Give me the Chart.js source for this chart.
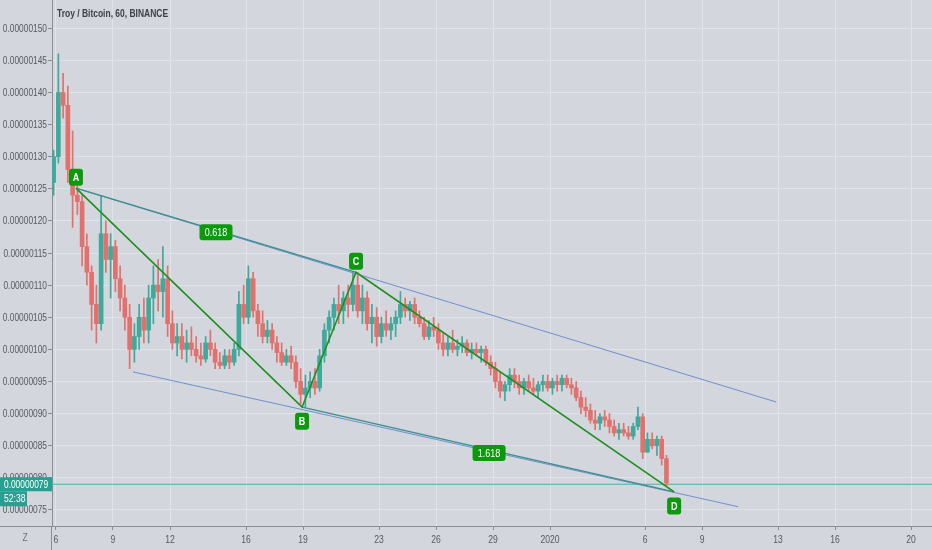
<!DOCTYPE html>
<html>
<head>
<meta charset="utf-8">
<script src="https://cdn.jsdelivr.net/npm/chart.js@4.4.1/dist/chart.umd.min.js"></script>
<style>
  html, body { margin: 0; padding: 0; background: #d3d6dc; }
  canvas { display: block; }
</style>
</head>
<body>
<canvas id="chart" width="932" height="550" style="width:932px;height:550px"></canvas>
<script>
// prices in satoshi (1e-8 BTC), time in days counted from Nov 30 (so Dec 6 = 6, Jan 1 = 32)
const chartTitle = 'Troy / Bitcoin, 60, BINANCE';
const candleStart = 5.875;
const candleStep = 0.25; // one candle per 6 hours

const opens = [
  126,
  130, 140, 138, 128, 124, 123, 116, 112,
  107, 104, 118, 114, 116, 111, 108, 105,
  100, 102, 105, 103, 108, 110, 109, 111,
  104, 101, 102, 100, 101, 100, 99, 98.5,
  101, 100, 98, 97.5, 99, 98, 100, 107,
  105, 111, 106, 104, 102, 103, 101, 99.5,
  98, 99, 98, 95, 93, 94, 95, 94,
  99, 103, 105, 107, 106, 108, 107, 110,
  106, 108, 104, 105, 102, 104, 103, 104,
  105, 107, 106, 107, 105, 104, 102, 103.5,
  103, 101, 100, 101, 100, 100.5, 101, 99.5,
  100, 99.5, 100, 98, 97, 95, 93.5, 94.5,
  96, 95, 94, 95, 94, 93.5, 94.5, 95,
  94, 95, 94.5, 95.5, 94.5, 94, 92.5, 91,
  90.5, 89, 88.5, 89.5, 89, 88, 87, 87.5,
  87, 86.5, 88, 89.5, 84, 86, 85, 86,
  83
];
const highs = [
  131,
  146, 143, 141, 134, 125.5, 124, 118, 113,
  110, 124, 120, 118, 117, 113, 110, 107,
  104, 107, 108, 110, 113, 114, 116, 113,
  106, 104, 104, 103, 103.5, 102, 101, 102,
  103, 101, 99.5, 100, 100, 101, 109, 110,
  113, 112, 107, 106, 104.5, 104, 102, 101,
  100, 100.5, 99, 97, 96, 96.5, 97, 100,
  104, 106, 108, 110, 109, 110, 112, 112,
  110, 109, 107, 106.5, 105, 106, 105, 106,
  109, 108, 107.5, 108, 106, 105, 104.5, 105,
  104, 102.5, 102, 103, 101.5, 102, 101.5, 101,
  101, 100.5, 100.5, 99, 98, 96.5, 95, 97,
  97, 96, 95.5, 96, 95.5, 95, 96, 96,
  95.5, 96, 96, 96, 95.5, 95, 93.5, 92.5,
  91.5, 90.5, 90, 90.5, 90, 89, 88.5, 88.5,
  88, 88.5, 91, 90, 87, 87, 86.5, 86.5,
  83.5
];
const lows = [
  124,
  129, 136, 126, 119, 121, 113, 110, 103,
  101, 103, 112, 108, 109, 106, 103, 97,
  98, 100, 101, 101, 104, 106, 105, 102,
  100, 99, 98.5, 98, 99, 98, 97.5, 98,
  99, 97, 97, 97, 97, 97.5, 99, 104,
  104, 105, 102, 101, 101, 100, 98, 97.5,
  97.5, 97, 94, 91.5, 91, 92.5, 93, 93.5,
  98, 101, 103, 104, 104, 105, 106, 105,
  104, 103, 101, 100.5, 101, 102, 101.5, 102,
  104, 105, 104.5, 104, 103.5, 101.5, 101.5, 102,
  100, 99, 99, 99.5, 99, 99.5, 99, 98.5,
  99, 98, 97.5, 96, 94, 92.5, 92, 93.5,
  94, 93, 93, 93.5, 93, 92.5, 93.5, 93.5,
  93, 93.5, 93.5, 94, 93, 92, 90, 89.5,
  88.5, 87.5, 87.5, 88, 87, 86.5, 86, 86.5,
  86, 86, 87.5, 83, 84, 84.5, 83.5, 82,
  78.8
];
const closes = [
  130,
  140, 138, 128, 124, 123, 116, 112, 107,
  104, 118, 114, 116, 111, 108, 105, 100,
  102, 105, 103, 108, 110, 109, 111, 104,
  101, 102, 100, 101, 100, 99, 98.5, 101,
  100, 98, 97.5, 99, 98, 100, 107, 105,
  111, 106, 104, 102, 103, 101, 99.5, 98,
  99, 98, 95, 93, 94, 95, 94, 99,
  103, 105, 107, 106, 108, 107, 110, 106,
  108, 104, 105, 102, 104, 103, 104, 105,
  107, 106, 107, 105, 104, 102, 103.5, 103,
  101, 100, 101, 100, 100.5, 101, 99.5, 100,
  99.5, 100, 98, 97, 95, 93.5, 94.5, 96,
  95, 94, 95, 94, 93.5, 94.5, 95, 94,
  95, 94.5, 95.5, 94.5, 94, 92.5, 91, 90.5,
  89, 88.5, 89.5, 89, 88, 87, 87.5, 87,
  86.5, 88, 89.5, 84, 86, 85, 86, 83,
  79.2
];

// harmonic pattern points A B C D
const patternNames = ['A', 'B', 'C', 'D'];
const patternDays = [7.05, 18.95, 21.79, 38.53];
const patternPrices = [125.1, 91.0, 112.0, 77.8];
const ratioLabels = ['0.618', '1.618'];
const ratioDays = [14.42, 28.79];
const ratioPrices = [118.25, 83.86];

// trend lines
const upperTrendDays = [7.05, 43.9];
const upperTrendPrices = [125.1, 91.8];
const lowerTrendDays = [10.05, 41.9];
const lowerTrendPrices = [96.5, 75.5];

const lastPrice = 79.0;
const countdown = '52:38';

const xTickDays = [6, 9, 12, 16, 19, 23, 26, 29, 32, 37, 40, 44, 47, 51];
const xTickLabels = ['6', '9', '12', '16', '19', '23', '26', '29', '2020', '6', '9', '13', '16', '20'];
const yTickValues = [75, 80, 85, 90, 95, 100, 105, 110, 115, 120, 125, 130, 135, 140, 145, 150];

const xMin = 5.79, xMax = 52.1;
const yMin = 72.5, yMax = 154.4;

const UP = '#3fa99b';
const DOWN = '#e2706c';
const GREEN = '#1d8f1d';
const LABEL_GREEN = '#0c9a0c';
const TEAL = '#3a8f8c';
const BLUE = '#6c8fd2';
const AXIS = '#8a8d92';
const GRID = '#e0e3e8';
const TEXT = '#555a61';
const FONT = "'Liberation Sans', Arial, sans-serif";

const candleDays = opens.map((_, i) => candleStart + i * candleStep);
const candleColors = opens.map((o, i) => (closes[i] >= o ? UP : DOWN));

function points(days, prices) {
  return days.map((d, i) => ({ x: d, y: prices[i] }));
}

function formatPrice(v) {
  return (v / 1e8).toFixed(8);
}

// the UI font is condensed, so squeeze Liberation Sans horizontally
function narrowText(ctx, text, x, y, align, squeeze = 0.82) {
  ctx.save();
  ctx.translate(x, y);
  ctx.scale(squeeze, 1);
  ctx.textAlign = align;
  ctx.fillText(text, 0, 0);
  ctx.restore();
}

function box(ctx, cx, cy, w, h, r, fill) {
  ctx.fillStyle = fill;
  ctx.beginPath();
  ctx.roundRect(cx - w / 2, cy - h / 2, w, h, r);
  ctx.fill();
}

const overlay = {
  id: 'overlay',
  afterDraw(chart) {
    const { ctx, scales: { x, y }, chartArea } = chart;
    ctx.save();
    ctx.textBaseline = 'middle';

    // axis lines continuing into the corner
    ctx.strokeStyle = AXIS;
    ctx.lineWidth = 1;
    ctx.beginPath();
    ctx.moveTo(chartArea.left - 0.5, chartArea.bottom);
    ctx.lineTo(chartArea.left - 0.5, chart.height);
    ctx.moveTo(0, chartArea.bottom + 0.5);
    ctx.lineTo(chartArea.left, chartArea.bottom + 0.5);
    ctx.stroke();

    // axis labels
    ctx.fillStyle = TEXT;
    ctx.font = `11px ${FONT}`;
    yTickValues.forEach((v) => {
      narrowText(ctx, formatPrice(v), chartArea.left - 5, y.getPixelForValue(v) + 0.5, 'right', 0.76);
    });
    xTickDays.forEach((d, i) => {
      narrowText(ctx, xTickLabels[i], x.getPixelForValue(d), chartArea.bottom + 14, 'center', 0.78);
    });

    // title
    ctx.fillStyle = '#3d4046';
    ctx.font = `bold 11px ${FONT}`;
    narrowText(ctx, chartTitle, chartArea.left + 5, 14, 'left', 0.77);

    // point labels
    ctx.font = `bold 11px ${FONT}`;
    patternNames.forEach((name, i) => {
      const px = x.getPixelForValue(patternDays[i]);
      const py = y.getPixelForValue(patternPrices[i]);
      const below = i % 2 === 1;
      const cy = below ? py + 14 : py - 11;
      box(ctx, px, cy, 14, 17, 3, LABEL_GREEN);
      ctx.fillStyle = '#ffffff';
      narrowText(ctx, name, px, cy + 1, 'center');
    });

    ctx.font = `11px ${FONT}`;
    ratioLabels.forEach((txt, i) => {
      const px = x.getPixelForValue(ratioDays[i]);
      const py = y.getPixelForValue(ratioPrices[i]);
      box(ctx, px, py, 33, 16, 3, LABEL_GREEN);
      ctx.fillStyle = '#ffffff';
      narrowText(ctx, txt, px, py + 1, 'center');
    });

    // last price tag on the axis
    const ly = y.getPixelForValue(lastPrice);
    ctx.fillStyle = '#28a091';
    ctx.fillRect(0, ly - 7, chartArea.left, 14);
    ctx.fillRect(0, ly + 7, 27, 15);
    ctx.fillStyle = '#ffffff';
    ctx.font = `11px ${FONT}`;
    narrowText(ctx, formatPrice(lastPrice), 4, ly + 0.5, 'left', 0.76);
    narrowText(ctx, countdown, 4, ly + 14.5, 'left', 0.78);

    // corner button
    ctx.fillStyle = '#6a6e75';
    ctx.font = `11px ${FONT}`;
    narrowText(ctx, 'Z', 25, 538, 'center', 0.78);

    ctx.restore();
  }
};

new Chart(document.getElementById('chart'), {
  type: 'bar',
  data: {
    datasets: [
      {
        type: 'line',
        data: points(patternDays, patternPrices),
        borderColor: GREEN,
        borderWidth: 1.6,
        pointRadius: 0,
        order: 0
      },
      {
        type: 'line',
        data: points([patternDays[0], patternDays[2]], [patternPrices[0], patternPrices[2]]),
        borderColor: TEAL,
        borderWidth: 1.3,
        pointRadius: 0,
        order: 1
      },
      {
        type: 'line',
        data: points([patternDays[1], patternDays[3]], [patternPrices[1], patternPrices[3]]),
        borderColor: TEAL,
        borderWidth: 1.3,
        pointRadius: 0,
        order: 1
      },
      {
        type: 'line',
        data: points(upperTrendDays, upperTrendPrices),
        borderColor: BLUE,
        borderWidth: 1,
        pointRadius: 0,
        order: 2
      },
      {
        type: 'line',
        data: points(lowerTrendDays, lowerTrendPrices),
        borderColor: BLUE,
        borderWidth: 1,
        pointRadius: 0,
        order: 2
      },
      {
        label: 'bodies',
        data: candleDays.map((d, i) => ({ x: d, y: [opens[i], closes[i]] })),
        backgroundColor: candleColors,
        barThickness: 4,
        minBarLength: 1,
        grouped: false,
        order: 3
      },
      {
        label: 'wicks',
        data: candleDays.map((d, i) => ({ x: d, y: [lows[i], highs[i]] })),
        backgroundColor: candleColors,
        barThickness: 1,
        grouped: false,
        order: 4
      },
      {
        type: 'line',
        data: points([xMin, xMax], [lastPrice, lastPrice]),
        borderColor: '#4fb3a6',
        borderWidth: 1,
        pointRadius: 0,
        order: 5
      }
    ]
  },
  options: {
    responsive: false,
    animation: false,
    events: [],
    layout: { padding: 0 },
    plugins: {
      legend: { display: false },
      tooltip: { enabled: false }
    },
    scales: {
      x: {
        type: 'linear',
        min: xMin,
        max: xMax,
        offset: false,
        grid: { color: GRID, offset: false, tickLength: 4, tickColor: AXIS },
        border: { color: AXIS },
        afterBuildTicks: (s) => { s.ticks = xTickDays.map((v) => ({ value: v })); },
        afterFit: (s) => { s.height = 24; },
        ticks: { display: false }
      },
      y: {
        position: 'left',
        min: yMin,
        max: yMax,
        grid: { color: GRID, tickLength: 4, tickColor: AXIS },
        border: { color: AXIS },
        afterBuildTicks: (s) => { s.ticks = yTickValues.map((v) => ({ value: v })); },
        afterFit: (s) => { s.width = 52; },
        ticks: { display: false }
      }
    }
  },
  plugins: [overlay]
});
</script>
</body>
</html>
